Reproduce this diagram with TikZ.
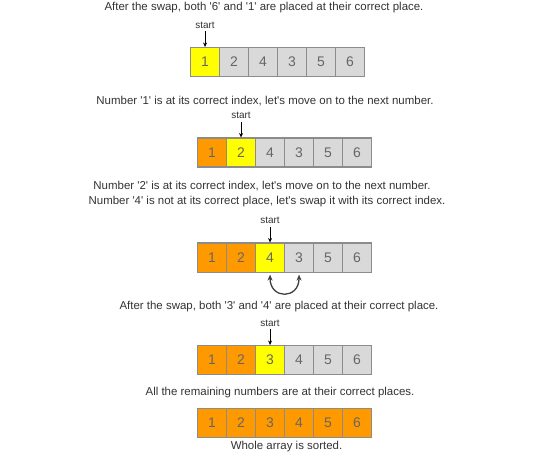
\documentclass[tikz,border=0pt]{standalone}
\usepackage{fontspec}
\setmainfont{Liberation Sans}[Ligatures=TeXOff]
\usetikzlibrary{arrows.meta}
\definecolor{cellY}{HTML}{FFFF00}
\definecolor{cellO}{HTML}{FF9900}
\definecolor{cellG}{HTML}{D9D9D9}
\definecolor{cellB}{HTML}{8C8C8C}
\definecolor{digit}{HTML}{666666}
\definecolor{txtc}{HTML}{333333}
\begin{document}
\begin{tikzpicture}[x=1bp,y=-1bp,
  cell/.style={draw=cellB,line width=1.1bp,minimum width=29bp,minimum height=29bp,inner sep=0pt,
    anchor=north west,font=\fontsize{14}{16}\selectfont,text=digit},
  txt/.style={font=\fontsize{11.5}{13.8}\selectfont,text=txtc,inner sep=0pt},
  startlbl/.style={font=\fontsize{10}{12}\selectfont,text=txtc,inner sep=0pt},
  startarrow/.style={-{Stealth[length=4.5bp,width=4bp]},line width=0.8bp,black},
  swaparrow/.style={{Stealth[length=6bp,width=5bp]}-{Stealth[length=6bp,width=5bp]},line width=1.3bp,draw=black!75}]
\useasboundingbox (0,0) rectangle (550,460);

% texts
\node[txt] (t1) at (264,8) {After the swap, both '6' and '1' are placed at their correct place.};
\node[txt] (t2) at (265,101) {Number '1' is at its correct index, let's move on to the next number.};
\node[txt] (t3) at (262,186) {Number '2' is at its correct index, let's move on to the next number.};
\node[txt] (t4) at (267,202) {Number '4' is not at its correct place, let's swap it with its correct index.};
\node[txt] (t5) at (279,307) {After the swap, both '3' and '4' are placed at their correct place.};
\node[txt] (t6) at (280,393) {All the remaining numbers are at their correct places.};
\node[txt] (t7) at (286.5,447) {Whole array is sorted.};

% rows: name/left/top/list of colour:value
\foreach \r/\x/\y/\cells in {
  a/190/47/{cellY/1,cellG/2,cellG/4,cellG/3,cellG/5,cellG/6},
  b/197/137.5/{cellO/1,cellY/2,cellG/4,cellG/3,cellG/5,cellG/6},
  c/197/242.5/{cellO/1,cellO/2,cellY/4,cellG/3,cellG/5,cellG/6},
  d/197/345/{cellO/1,cellO/2,cellY/3,cellG/4,cellG/5,cellG/6},
  e/197/408/{cellO/1,cellO/2,cellO/3,cellO/4,cellO/5,cellO/6}}{
  \foreach \col/\v [count=\i] in \cells {
    \node[cell,fill=\col] (\r\i) at ({\x+(\i-1)*29},\y) {\v};
  }
}

% start markers
\node[startlbl,anchor=center] (sa) at ([yshift=22bp]a1.north) {start};
\node[startlbl,anchor=center] (sb) at ([yshift=22bp]b2.north) {start};
\node[startlbl,anchor=center] (sc) at ([yshift=22bp]c3.north) {start};
\node[startlbl,anchor=center] (sd) at ([yshift=22bp]d3.north) {start};
\foreach \s/\t in {sa/a1,sb/b2,sc/c3,sd/d3}
  \draw[startarrow] ([yshift=-3bp]\s.south) -- (\t.north);

% swap arrow
\draw[swaparrow] ([yshift=-2bp]c3.south) .. controls ([yshift=-27bp]c3.south) and ([yshift=-27bp]c4.south) .. ([yshift=-2bp]c4.south);
\end{tikzpicture}
\end{document}
